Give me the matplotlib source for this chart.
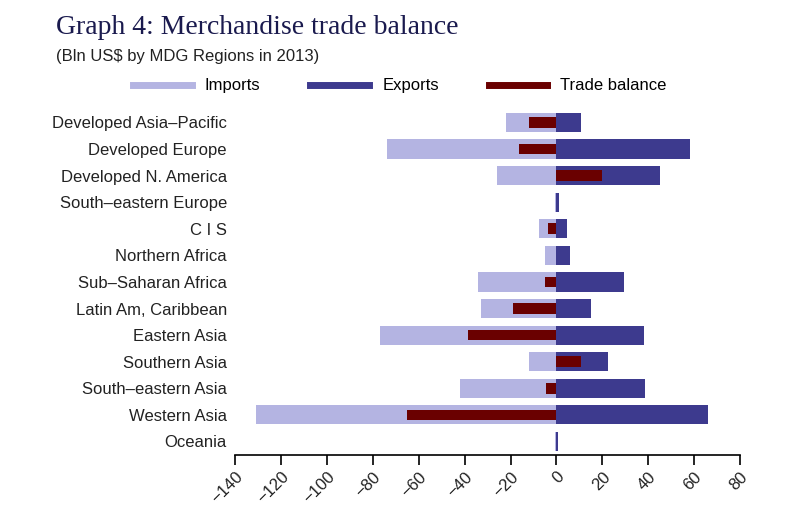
import matplotlib.pyplot as plt
import numpy as np
from matplotlib.lines import Line2D

regions = ["Developed Asia\u2013Pacific", "Developed Europe", "Developed N. America",
           "South\u2013eastern Europe", "C I S", "Northern Africa", "Sub\u2013Saharan Africa",
           "Latin Am, Caribbean", "Eastern Asia", "Southern Asia", "South\u2013eastern Asia",
           "Western Asia", "Oceania"]
imports = [-22, -74, -26, -0.8, -7.5, -5, -34, -33, -77, -12, -42, -131, -0.5]
exports = [10.5, 58, 45, 1, 4.5, 6, 29.5, 15, 38, 22.5, 38.5, 66, 0.5]
balance = [-12, -16.5, 20, 0, -3.5, 0, -5, -19, -38.5, 10.5, -4.5, -65, 0]

c_imp = "#b4b4e2"
c_exp = "#3d3a8e"
c_bal = "#6a0000"

plt.rcParams['font.family'] = ['Liberation Sans', 'DejaVu Sans']
fig = plt.figure(figsize=(8, 5.3), dpi=100)
ax = fig.add_axes([0.294, 0.142, 0.631, 0.652])

y = np.arange(len(regions))
ax.barh(y, imports, height=0.72, color=c_imp)
ax.barh(y, exports, height=0.72, color=c_exp)
ax.barh(y, balance, height=0.4, color=c_bal)

ax.set_xlim(-140, 80)
ax.set_ylim(len(regions) - 0.5, -0.5)
ax.set_xticks(range(-140, 81, 20))
ax.set_xticklabels([f"\u2212{-v}" if v < 0 else str(v) for v in range(-140, 81, 20)],
                   rotation=45, ha='right', rotation_mode='anchor', fontsize=12, color='#222222')
ax.set_yticks(y)
ax.set_yticklabels(regions, fontsize=12, color='#222222')
ax.tick_params(axis='y', length=0, pad=6)
ax.tick_params(axis='x', direction='out', length=7, width=1.2)
for s in ['top', 'right', 'left']:
    ax.spines[s].set_visible(False)
ax.spines['bottom'].set_linewidth(1.2)

fig.text(0.07, 0.935, "Graph 4: Merchandise trade balance", family='Liberation Serif',
         fontsize=20, color='#1a1a4e')
fig.text(0.07, 0.885, "(Bln US$ by MDG Regions in 2013)", fontsize=12, color='#222222')

handles = [Line2D([], [], color=c_imp, lw=5), Line2D([], [], color=c_exp, lw=5),
           Line2D([], [], color=c_bal, lw=5)]
fig.legend(handles, ["Imports", "Exports", "Trade balance"], ncol=3, frameon=False,
           loc='center', bbox_to_anchor=(0.5, 0.838), fontsize=12, handlelength=3.5,
           columnspacing=3)

fig.savefig("out.png")
